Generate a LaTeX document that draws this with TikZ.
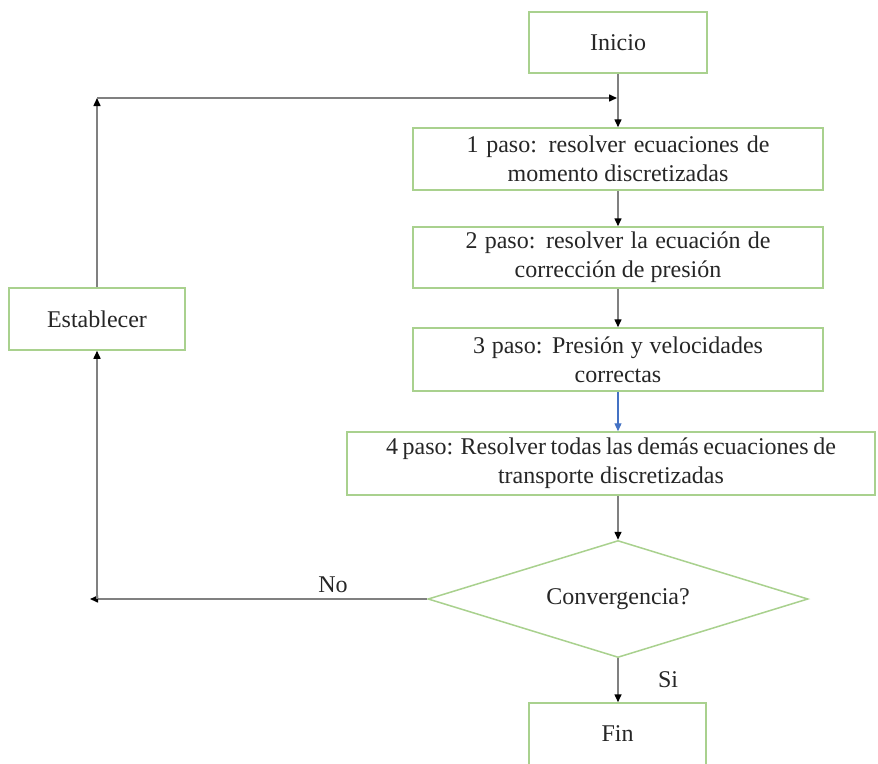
\documentclass[tikz,border=0pt]{standalone}
\usepackage{fontspec}
\setmainfont{Liberation Serif}
\usetikzlibrary{arrows.meta,shapes.geometric}
\definecolor{boxgreen}{RGB}{169,209,142}
\definecolor{linegray}{RGB}{128,128,128}
\definecolor{txt}{RGB}{38,38,38}
\definecolor{arrblue}{RGB}{68,114,196}
\begin{document}
\begin{tikzpicture}[x=1pt,y=-1pt,
  font=\fontsize{24}{29}\selectfont,
  box/.style={draw=boxgreen, line width=1.5pt, rectangle, inner sep=0pt, align=center, text=txt},
  dia/.style={draw=boxgreen, line width=1.5pt, diamond, shape aspect=3.25, inner sep=0pt, minimum width=380pt, minimum height=117pt, text=txt},
  con/.style={draw=linegray, line width=1.5pt, -{Triangle[length=8pt,width=7pt,color=black]}},
  bcon/.style={draw=arrblue, line width=1.2pt, -{Triangle[length=8pt,width=7pt,color=arrblue]}},
  lbl/.style={text=txt, inner sep=0pt}
]
\useasboundingbox (0,0) rectangle (878,763);
\clip (0,0) rectangle (878,763);
\fill[white] (0,0) rectangle (878,763);

\node[box, minimum width=178pt, minimum height=61pt] (inicio) at (618,42.5) {Inicio};
\node[box, minimum width=410pt, minimum height=62pt] (b1) at (618,159)
  {\makebox[303pt][s]{1 paso: resolver ecuaciones de}\\momento discretizadas};
\node[box, minimum width=410pt, minimum height=61pt] (b2) at (618,257.5)
  {\makebox[305pt][s]{2 paso: resolver la ecuación de}\\corrección de presión};
\node[box, minimum width=410pt, minimum height=63pt] (b3) at (618,359.5)
  {\makebox[290pt][s]{3 paso: Presión y velocidades}\\correctas};
\node[box, minimum width=528pt, minimum height=63pt] (b4) at (611,463.5)
  {\makebox[450pt][s]{4 paso: Resolver todas las demás ecuaciones de}\\transporte discretizadas};
\node[dia] (conv) at (618,599) {Convergencia?};
\node[box, minimum width=177pt, minimum height=62pt] (fin) at (617.5,734) {Fin};
\node[box, minimum width=176pt, minimum height=62pt] (est) at (97,319) {Establecer};

\node[lbl] (no) at (333,585) {No};
\node[lbl] (si) at (668,680) {Si};

\coordinate (tl) at (97,98);
\coordinate (tr) at (617,98);
\coordinate (bl) at (90,599);
\coordinate (bc) at (97,599);

\draw[con] (inicio.south) -- (b1.north);
\draw[con] (b1.south) -- (b2.north);
\draw[con] (b2.south) -- (b3.north);
\draw[bcon] (b3.south) -- (b3.south |- b4.north);
\draw[con] (b3.south |- b4.south) -- (conv.north);
\draw[con] (conv.south) -- (conv.south |- fin.north);
\draw[con] (conv.west) -- (bl);
\draw[con] (bc) -- (est.south);
\draw[con] (est.north) -- (tl);
\draw[con] (tl) -- (tr);
\end{tikzpicture}
\end{document}
